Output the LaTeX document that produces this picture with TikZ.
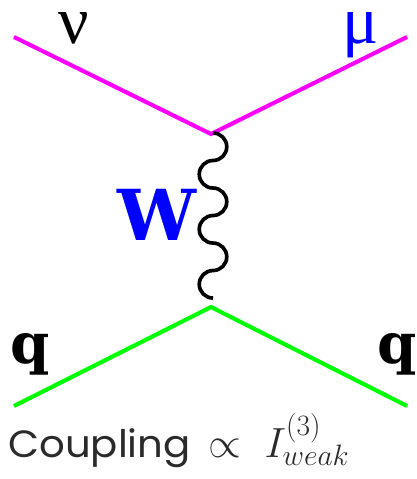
\documentclass[tikz,border=0pt]{standalone}
\usepackage{fix-cm}
\usepackage{fontspec}
\usetikzlibrary{positioning}
\usepackage{xcolor}
\newfontfamily\greekfont{Liberation Serif}
\newfontfamily\slabfont{DejaVu Serif}
\newfontfamily\captionfont[FakeStretch=1.06]{Poppins}
\DeclareMathSizes{30}{30}{21}{15}
\definecolor{leptonmagenta}{HTML}{FF00FF}
\definecolor{quarkgreen}{HTML}{00FF00}
\definecolor{labelblue}{HTML}{0000FF}
\definecolor{textgray}{HTML}{2A2A2A}

\begin{document}
\begin{tikzpicture}[
    x=0.025cm, y=-0.025cm,
    lepton/.style={draw=leptonmagenta, line width=2.9pt},
    quark/.style={draw=quarkgreen, line width=2.9pt},
    boson/.style={draw=black, line width=2.6pt},
    greeklabel/.style={inner sep=0pt, anchor=base, font=\greekfont\fontsize{48}{48}\selectfont},
    boldlabel/.style={inner sep=0pt, anchor=base, font=\slabfont\bfseries\fontsize{40}{40}\selectfont},
]
\useasboundingbox (0,0) rectangle (416,479);

% vertices and free ends
\coordinate (nuend) at (14,37);
\coordinate (muend) at (407,37);
\coordinate (topvtx) at (211,134);
\coordinate (wtop) at (213,133);
\coordinate (wbot) at (213,298);
\coordinate (botvtx) at (211,307);
\coordinate (qinend) at (14,406);
\coordinate (qoutend) at (407,406);

\draw[lepton] (nuend) -- (topvtx) -- (muend);
\draw[quark] (qinend) -- (botvtx) -- (qoutend);

% W propagator: six half circles, right and left in turn
\draw[boson] (wtop)
    \foreach \k in {1,2,3} {
        arc[start angle=90, end angle=-90, radius=0.34375cm]
        arc[start angle=90, end angle=270, radius=0.34375cm]
    };

\node[greeklabel] (nu) at (74,44) {ν};
\node[greeklabel, text=labelblue] (mu) at (361,44) {μ};
\node[boldlabel, text=labelblue, font=\slabfont\bfseries\fontsize{50}{50}\selectfont] (wlabel) at (157,240) {W};
\node[boldlabel] (qin) at (30,363) {q};
\node[boldlabel] (qout) at (397,363) {q};

\node[inner sep=0pt, anchor=base west, text=textgray, font=\captionfont\fontsize{27}{27}\selectfont] (coupling) at (8,457) {Coupling};
\node[inner sep=0pt, anchor=base west, text=textgray, font=\fontsize{30}{30}\selectfont] (formula) at ([xshift=12pt]coupling.base east)
    {$\propto\; I^{(3)}_{weak}$};

\end{tikzpicture}
\end{document}
